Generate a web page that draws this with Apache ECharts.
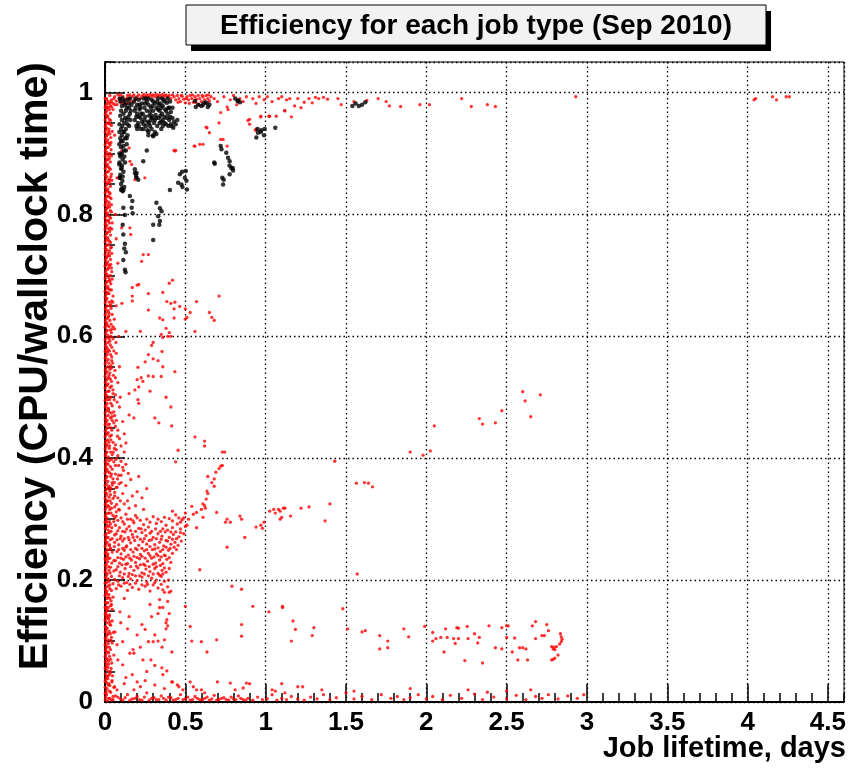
<!DOCTYPE html>
<html>
<head>
<meta charset="utf-8">
<script src="https://cdn.jsdelivr.net/npm/echarts@6/dist/echarts.min.js"></script>
<style>
  html, body { margin: 0; padding: 0; background: #fff; }
  #chart { width: 860px; height: 768px; }
</style>
</head>
<body>
<div id="chart"></div>
<script>
// tick values
var xTicks = [0, 0.5, 1, 1.5, 2, 2.5, 3, 3.5, 4, 4.5];
var yTicks = [0, 0.2, 0.4, 0.6, 0.8, 1];

// red: jobs at (almost) zero lifetime, along the left edge
var redEdge = [
  [0.001,0.014],[0.001,0.034],[0.001,0.055],[0.001,0.075],[0.001,0.094],[0.001,0.115],[0.001,0.134],[0.001,0.155],
  [0.001,0.175],[0.001,0.195],[0.001,0.214],[0.001,0.235],[0.001,0.255],[0.001,0.274],[0.001,0.295],[0.001,0.315],
  [0.001,0.334],[0.001,0.355],[0.001,0.375],[0.001,0.394],[0.001,0.415],[0.001,0.435],[0.001,0.455],[0.001,0.474],
  [0.001,0.495],[0.001,0.515],[0.001,0.534],[0.001,0.555],[0.001,0.575],[0.001,0.594],[0.001,0.615],[0.001,0.635],
  [0.001,0.655],[0.001,0.674],[0.001,0.695],[0.001,0.715],[0.001,0.734],[0.001,0.755],[0.001,0.775],[0.001,0.794],
  [0.001,0.815],[0.001,0.835],[0.001,0.854],[0.001,0.875],[0.001,0.895],[0.001,0.914],[0.001,0.935],[0.001,0.955],
  [0.001,0.975],[0.001,0.99]
];

// red: dense column of short jobs
var redColumn = [
  [0.002,0.004],[0.01,0.012],[0.022,0.006],[0.035,0.016],[0.05,0.009],
  [0.002,0.024],[0.008,0.032],[0.018,0.038],[0.03,0.027],[0.044,0.035],
  [0.002,0.046],[0.012,0.052],[0.025,0.044],[0.006,0.058],[0.038,0.055],
  [0.002,0.066],[0.015,0.07],[0.028,0.075],[0.005,0.078],[0.042,0.064],
  [0.002,0.084],[0.01,0.09],[0.02,0.096],[0.034,0.086],[0.006,0.099],
  [0.002,0.104],[0.014,0.11],[0.026,0.116],[0.04,0.106],[0.008,0.118],
  [0.002,0.124],[0.011,0.13],[0.022,0.136],[0.035,0.126],[0.005,0.139],
  [0.002,0.144],[0.016,0.15],[0.028,0.143],[0.008,0.156],[0.045,0.152],
  [0.002,0.164],[0.012,0.17],[0.024,0.176],[0.038,0.166],[0.006,0.179],
  [0.002,0.184],[0.018,0.19],[0.03,0.186],[0.009,0.196],[0.05,0.194],
  [0.002,0.204],[0.013,0.21],[0.025,0.216],[0.04,0.206],[0.006,0.219],
  [0.002,0.224],[0.017,0.23],[0.03,0.236],[0.008,0.226],[0.055,0.232],
  [0.002,0.244],[0.012,0.25],[0.026,0.256],[0.045,0.246],[0.006,0.259],
  [0.002,0.264],[0.019,0.27],[0.033,0.266],[0.009,0.276],[0.06,0.274],
  [0.002,0.284],[0.014,0.29],[0.027,0.296],[0.042,0.286],[0.007,0.299],
  [0.002,0.304],[0.018,0.31],[0.03,0.316],[0.05,0.306],[0.008,0.319],[0.07,0.312],
  [0.002,0.324],[0.012,0.33],[0.025,0.336],[0.04,0.326],[0.06,0.338],[0.006,0.339],
  [0.002,0.344],[0.016,0.35],[0.03,0.346],[0.045,0.356],[0.075,0.352],[0.009,0.358],
  [0.002,0.364],[0.013,0.37],[0.028,0.376],[0.05,0.366],[0.065,0.374],[0.006,0.379],
  [0.002,0.384],[0.019,0.39],[0.034,0.386],[0.055,0.394],[0.085,0.388],[0.01,0.398],
  [0.002,0.404],[0.012,0.41],[0.026,0.416],[0.045,0.406],[0.07,0.414],[0.007,0.419],
  [0.002,0.424],[0.017,0.43],[0.031,0.436],[0.05,0.426],[0.09,0.432],[0.008,0.439],
  [0.002,0.444],[0.014,0.45],[0.027,0.456],[0.042,0.446],[0.065,0.452],[0.006,0.459],
  [0.002,0.464],[0.02,0.47],[0.034,0.466],[0.055,0.476],[0.01,0.478],
  [0.002,0.484],[0.013,0.49],[0.028,0.496],[0.045,0.486],[0.075,0.492],[0.007,0.499],
  [0.002,0.504],[0.018,0.51],[0.032,0.516],[0.05,0.506],[0.009,0.519],
  [0.002,0.524],[0.012,0.53],[0.025,0.536],[0.04,0.526],[0.065,0.532],[0.006,0.539],
  [0.002,0.544],[0.016,0.55],[0.03,0.546],[0.048,0.556],[0.008,0.559],
  [0.002,0.564],[0.013,0.57],[0.027,0.576],[0.042,0.566],[0.07,0.572],[0.006,0.579],
  [0.002,0.584],[0.019,0.59],[0.033,0.586],[0.05,0.596],[0.01,0.598],
  [0.002,0.604],[0.012,0.61],[0.025,0.616],[0.04,0.606],[0.06,0.612],[0.006,0.619],
  [0.002,0.624],[0.017,0.63],[0.03,0.626],[0.045,0.636],[0.008,0.639],
  [0.002,0.644],[0.013,0.65],[0.026,0.656],[0.038,0.646],[0.006,0.659],
  [0.002,0.664],[0.018,0.67],[0.031,0.676],[0.05,0.666],[0.009,0.679],
  [0.002,0.684],[0.012,0.69],[0.024,0.696],[0.036,0.686],[0.006,0.699],
  [0.002,0.704],[0.016,0.71],[0.028,0.716],[0.042,0.706],[0.008,0.719],
  [0.002,0.724],[0.011,0.73],[0.022,0.736],[0.034,0.726],[0.005,0.739],
  [0.002,0.744],[0.015,0.75],[0.027,0.756],[0.04,0.746],[0.007,0.759],
  [0.002,0.764],[0.012,0.77],[0.023,0.776],[0.035,0.766],[0.006,0.779],
  [0.002,0.784],[0.016,0.79],[0.028,0.796],[0.045,0.786],[0.008,0.799],
  [0.002,0.804],[0.011,0.81],[0.022,0.816],[0.033,0.806],[0.005,0.819],
  [0.002,0.824],[0.014,0.83],[0.026,0.836],[0.038,0.826],[0.007,0.839],
  [0.002,0.844],[0.012,0.85],[0.024,0.856],[0.034,0.846],[0.006,0.859],
  [0.002,0.864],[0.015,0.87],[0.027,0.876],[0.04,0.866],[0.008,0.879],
  [0.002,0.884],[0.011,0.89],[0.022,0.896],[0.033,0.886],[0.005,0.899],
  [0.002,0.904],[0.014,0.91],[0.026,0.916],[0.038,0.906],[0.007,0.919],
  [0.002,0.924],[0.012,0.93],[0.024,0.936],[0.036,0.926],[0.006,0.939],
  [0.002,0.944],[0.015,0.95],[0.028,0.956],[0.04,0.946],[0.008,0.959],
  [0.002,0.964],[0.011,0.97],[0.022,0.976],[0.034,0.966],[0.005,0.979],[0.05,0.972]
];

// red: more of the same column, between the points above
var redColumnFill = [
  [0.006,0.015],[0.016,0.002],[0.028,0.018],[0.042,0.003],
  [0.004,0.037],[0.013,0.022],[0.024,0.03],[0.055,0.024],
  [0.008,0.042],[0.018,0.057],[0.032,0.05],[0.047,0.043],
  [0.009,0.062],[0.021,0.067],[0.035,0.07],[0.055,0.077],
  [0.005,0.087],[0.015,0.082],[0.027,0.09],[0.045,0.097],
  [0.007,0.107],[0.02,0.102],[0.033,0.112],[0.052,0.114],
  [0.006,0.122],[0.016,0.138],[0.029,0.128],[0.045,0.133],
  [0.005,0.147],[0.012,0.142],[0.022,0.155],[0.036,0.158],
  [0.007,0.162],[0.018,0.163],[0.03,0.17],[0.05,0.172],
  [0.005,0.188],[0.012,0.182],[0.024,0.198],[0.04,0.183],
  [0.008,0.207],[0.019,0.202],[0.032,0.212],[0.055,0.215],
  [0.005,0.232],[0.012,0.238],[0.023,0.222],[0.042,0.228],
  [0.007,0.247],[0.018,0.243],[0.035,0.252],[0.058,0.255],
  [0.005,0.268],[0.014,0.262],[0.026,0.278],[0.045,0.268],
  [0.006,0.287],[0.02,0.282],[0.034,0.292],[0.055,0.296],
  [0.005,0.308],[0.012,0.302],[0.024,0.31],[0.04,0.318],[0.06,0.302],[0.085,0.316],
  [0.008,0.328],[0.018,0.322],[0.032,0.33],[0.05,0.334],[0.072,0.324],[0.095,0.33],
  [0.005,0.349],[0.012,0.342],[0.023,0.354],[0.038,0.35],[0.06,0.344],[0.088,0.358],
  [0.007,0.368],[0.018,0.362],[0.036,0.37],[0.058,0.36],[0.078,0.366],[0.1,0.372],
  [0.005,0.388],[0.012,0.382],[0.026,0.396],[0.045,0.382],[0.068,0.398],[0.11,0.385],
  [0.006,0.408],[0.019,0.402],[0.035,0.41],[0.058,0.416],[0.08,0.404],[0.12,0.41],
  [0.005,0.428],[0.012,0.422],[0.024,0.426],[0.04,0.438],[0.065,0.422],[0.078,0.436],
  [0.008,0.448],[0.02,0.442],[0.034,0.45],[0.055,0.458],[0.08,0.446],
  [0.005,0.468],[0.013,0.462],[0.026,0.476],[0.044,0.468],[0.07,0.462],
  [0.006,0.487],[0.02,0.482],[0.036,0.49],[0.058,0.496],[0.09,0.484],
  [0.005,0.508],[0.012,0.502],[0.025,0.51],[0.04,0.518],[0.065,0.504],
  [0.008,0.528],[0.019,0.522],[0.033,0.53],[0.052,0.536],[0.08,0.524],
  [0.005,0.548],[0.012,0.542],[0.024,0.556],[0.04,0.548],[0.062,0.544],
  [0.006,0.568],[0.02,0.562],[0.035,0.57],[0.055,0.576],
  [0.005,0.588],[0.012,0.582],[0.026,0.596],[0.042,0.582],[0.068,0.59],
  [0.008,0.608],[0.018,0.602],[0.032,0.61],[0.05,0.616],
  [0.005,0.628],[0.012,0.622],[0.024,0.634],[0.038,0.62],[0.058,0.628],
  [0.006,0.648],[0.02,0.642],[0.032,0.65],[0.048,0.656],
  [0.005,0.668],[0.012,0.662],[0.025,0.67],[0.04,0.676],
  [0.008,0.688],[0.018,0.682],[0.03,0.69],[0.045,0.694],
  [0.005,0.708],[0.012,0.702],[0.022,0.712],[0.035,0.718],
  [0.006,0.728],[0.017,0.722],[0.028,0.732],[0.042,0.736],
  [0.005,0.748],[0.011,0.742],[0.021,0.75],[0.034,0.754],
  [0.008,0.768],[0.018,0.762],[0.029,0.772],[0.042,0.776],
  [0.005,0.788],[0.011,0.782],[0.022,0.79],[0.036,0.794],
  [0.006,0.808],[0.016,0.802],[0.028,0.812],[0.04,0.816],
  [0.005,0.828],[0.011,0.822],[0.02,0.83],[0.032,0.834],
  [0.008,0.848],[0.018,0.842],[0.029,0.852],[0.042,0.856],
  [0.005,0.868],[0.011,0.862],[0.021,0.87],[0.034,0.874],
  [0.006,0.888],[0.016,0.882],[0.028,0.892],[0.04,0.896],
  [0.005,0.908],[0.011,0.902],[0.02,0.91],[0.032,0.914],
  [0.008,0.928],[0.018,0.922],[0.03,0.932],[0.045,0.936],
  [0.005,0.948],[0.011,0.942],[0.021,0.95],[0.034,0.954],
  [0.006,0.968],[0.016,0.962],[0.028,0.972],[0.042,0.976],[0.06,0.98]
];

// red: third layer of the column where it is nearly solid
var redColumnCore = [
  [0.004,0.008],[0.019,0.028],[0.031,0.047],[0.009,0.071],[0.023,0.081],[0.037,0.101],[0.013,0.121],[0.026,0.14],
  [0.04,0.16],[0.01,0.178],[0.021,0.2],[0.034,0.221],[0.015,0.24],[0.028,0.258],[0.038,0.28],[0.011,0.295],
  [0.023,0.321],[0.034,0.34],[0.045,0.36],[0.02,0.378],[0.04,0.398],[0.028,0.42],[0.015,0.44],[0.045,0.462],
  [0.022,0.48],[0.035,0.5],[0.015,0.52],[0.03,0.54],[0.042,0.56],[0.02,0.578],[0.037,0.6],[0.015,0.618],
  [0.026,0.638],[0.042,0.658],[0.021,0.678],[0.033,0.7],[0.014,0.718],[0.028,0.74],[0.019,0.758],[0.032,0.778],
  [0.013,0.798],[0.025,0.82],[0.016,0.838],[0.028,0.858],[0.019,0.878],[0.03,0.9],[0.014,0.918],[0.025,0.94],
  [0.018,0.96],[0.03,0.982],[0.009,0.988],
  [0.007,0.018],[0.015,0.042],[0.022,0.062],[0.007,0.092],[0.017,0.112],[0.03,0.132],[0.007,0.152],[0.019,0.172],
  [0.03,0.192],[0.007,0.212],[0.02,0.235],[0.031,0.25],[0.01,0.27],[0.024,0.288],[0.037,0.31],[0.015,0.33],
  [0.028,0.352],[0.04,0.374],[0.012,0.392],[0.052,0.41],[0.036,0.43],[0.02,0.455],[0.06,0.47],[0.04,0.474],
  [0.016,0.496],[0.05,0.512],[0.022,0.532],[0.036,0.552],[0.016,0.574],[0.03,0.592],[0.044,0.612],[0.02,0.632],
  [0.035,0.652],[0.014,0.672],[0.028,0.692],[0.04,0.712],[0.02,0.732],[0.035,0.745],[0.014,0.77],[0.027,0.786],
  [0.04,0.804],[0.017,0.812],[0.03,0.828],[0.014,0.852],[0.036,0.862],[0.019,0.89],[0.037,0.918],[0.016,0.932],
  [0.03,0.948],[0.014,0.975],[0.038,0.985]
];

// red: band of efficient jobs just under 1
var redTopBand = [
  [0.01,0.99],[0.02,0.985],[0.03,0.995],[0.04,0.988],[0.05,0.982],[0.06,0.993],[0.07,0.986],[0.08,0.996],
  [0.09,0.99],[0.1,0.984],[0.11,0.994],[0.12,0.988],[0.13,0.982],[0.14,0.995],[0.15,0.99],[0.16,0.985],
  [0.17,0.993],[0.18,0.996],[0.19,0.988],[0.2,0.993],[0.21,0.996],[0.22,0.99],[0.23,0.994],[0.24,0.997],
  [0.25,0.993],[0.26,0.996],[0.27,0.993],[0.28,0.997],[0.29,0.994],[0.3,0.996],[0.31,0.993],[0.32,0.997],
  [0.33,0.994],[0.34,0.996],[0.35,0.993],[0.36,0.997],[0.37,0.994],[0.38,0.996],[0.39,0.993],[0.4,0.995],
  [0.41,0.99],[0.42,0.996],[0.43,0.993],[0.44,0.988],[0.45,0.995],[0.46,0.99],[0.47,0.985],[0.48,0.994],
  [0.49,0.989],[0.5,0.983],[0.51,0.993],[0.52,0.988],[0.53,0.995],[0.54,0.99],[0.55,0.984],[0.56,0.993],
  [0.57,0.989],[0.58,0.995],[0.59,0.99],[0.6,0.985],[0.61,0.993],[0.62,0.988],[0.63,0.995],[0.64,0.99],
  [0.65,0.986],[0.66,0.993],[0.015,0.982],[0.035,0.978],[0.055,0.99],[0.075,0.98],[0.095,0.996],[0.115,0.982],
  [0.135,0.99],[0.155,0.996],[0.175,0.984],[0.455,0.984],[0.475,0.995],[0.505,0.99],[0.525,0.982],[0.545,0.996],
  [0.565,0.984],[0.585,0.98],[0.605,0.995],[0.625,0.982],[0.645,0.996]
];

// red: sparse efficient jobs at longer lifetimes
var redTopSparse = [
  [0.68,0.99],[0.7,0.985],[0.72,0.967],[0.74,0.993],[0.76,0.976],[0.78,0.988],[0.8,0.995],[0.82,0.98],
  [0.84,0.99],[0.86,0.985],[0.88,0.993],[0.9,0.956],[0.92,0.99],[0.94,0.982],[0.96,0.993],[0.97,0.961],
  [0.99,0.988],[1.01,0.993],[1.02,0.961],[1.04,0.985],[1.066,0.961],[1.08,0.99],[1.1,0.993],[1.12,0.97],
  [1.13,0.988],[1.15,0.99],[1.16,0.96],[1.18,0.978],[1.2,0.99],[1.22,0.975],[1.24,0.984],[1.27,0.99],
  [1.29,0.983],[1.31,0.992],[1.33,0.99],[1.36,0.992],[1.385,0.989],[1.45,0.99],[1.47,0.98],[1.55,0.985],
  [1.63,0.987],[1.7,0.99],[1.75,0.985],[1.77,0.978],[1.84,0.977],[1.96,0.98],[2.02,0.98],[2.22,0.99],
  [2.28,0.977],[2.38,0.98],[2.43,0.977],[2.93,0.993],[4.04,0.988],[4.05,0.99],[4.155,0.993],[4.18,0.988],
  [4.24,0.993],[4.26,0.993]
];

// red: scattered jobs at medium efficiency
var redMid = [
  [0.17,0.68],[0.2,0.684],[0.21,0.685],[0.4,0.687],[0.42,0.692],[0.17,0.666],[0.17,0.658],[0.27,0.67],
  [0.36,0.672],[0.105,0.654],[0.27,0.643],[0.385,0.657],[0.41,0.654],[0.435,0.656],[0.43,0.645],[0.465,0.649],
  [0.5,0.645],[0.57,0.657],[0.53,0.639],[0.65,0.639],[0.665,0.631],[0.68,0.626],[0.71,0.666],[0.51,0.631],
  [0.5,0.628],[0.34,0.63],[0.36,0.627],[0.43,0.63],[0.22,0.608],[0.13,0.608],[0.3,0.59],[0.35,0.603],
  [0.36,0.598],[0.38,0.613],[0.4,0.606],[0.39,0.6],[0.41,0.6],[0.56,0.608],[0.29,0.585],[0.355,0.575],
  [0.27,0.57],[0.25,0.558],[0.3,0.563],[0.33,0.56],[0.36,0.55],[0.205,0.549],[0.27,0.535],[0.3,0.534],
  [0.225,0.532],[0.2,0.529],[0.35,0.534],[0.435,0.542],[0.236,0.526],[0.21,0.517],[0.28,0.51],[0.186,0.512],
  [0.15,0.506],[0.205,0.496],[0.38,0.5],[0.21,0.49],[0.41,0.484],[0.15,0.471],[0.18,0.466],[0.31,0.466],
  [0.335,0.458],[0.415,0.453],[0.56,0.435],[0.62,0.428],[0.62,0.42],[0.73,0.41],[0.745,0.41],[0.455,0.413],
  [0.44,0.394],[0.72,0.387],
  [0.44,0.905],[0.56,0.912],[0.61,0.915],[0.635,0.942],[0.65,0.934],[0.735,0.923],[0.71,0.95],[0.766,0.972],
  [0.89,0.954],[0.9,0.948],[0.936,0.938],[0.97,0.96],[1.025,0.961],[1.118,0.97],[0.15,0.909],[0.104,0.904],
  [0.155,0.887],[0.166,0.882],[0.248,0.86],[0.186,0.857],[0.43,0.905],[0.238,0.734],[0.27,0.734],[0.228,0.723],
  [0.155,0.778],[0.16,0.767],[0.104,0.778],[0.63,0.943],[0.72,0.923],[0.76,0.912],[0.59,0.915],[0.555,0.912],
  [0.435,0.904],[0.94,0.94],[0.07,0.76],[0.08,0.72],[0.065,0.8],[0.075,0.86],[0.06,0.93],[0.07,0.65],
  [0.085,0.6],[0.09,0.55],[0.095,0.5],[0.11,0.46],[0.12,0.44],[0.1,0.42],[0.13,0.425]
];

// red: big cluster around 0.2-0.3 efficiency
var redCluster = [
  [0.07,0.305],[0.1,0.302],[0.13,0.308],[0.16,0.3],[0.19,0.306],[0.22,0.298],[0.3,0.304],[0.35,0.296],
  [0.4,0.301],[0.44,0.307],[0.48,0.299],
  [0.065,0.29],[0.09,0.286],[0.12,0.292],[0.15,0.288],[0.18,0.294],[0.21,0.285],[0.24,0.291],[0.27,0.287],
  [0.32,0.293],[0.36,0.284],[0.38,0.29],[0.42,0.286],[0.45,0.292],[0.47,0.284],[0.5,0.288],
  [0.07,0.276],[0.1,0.272],[0.125,0.279],[0.145,0.27],[0.17,0.275],[0.2,0.271],[0.23,0.278],[0.255,0.273],
  [0.28,0.277],[0.3,0.27],[0.33,0.276],[0.355,0.272],[0.375,0.279],[0.4,0.27],[0.425,0.275],[0.44,0.279],
  [0.46,0.271],[0.49,0.276],
  [0.06,0.262],[0.085,0.258],[0.11,0.264],[0.135,0.256],[0.16,0.261],[0.185,0.265],[0.21,0.257],[0.235,0.263],
  [0.26,0.259],[0.29,0.266],[0.31,0.258],[0.34,0.262],[0.365,0.256],[0.39,0.264],[0.41,0.259],[0.435,0.262],
  [0.455,0.257],
  [0.075,0.247],[0.1,0.243],[0.12,0.249],[0.145,0.241],[0.175,0.246],[0.2,0.25],[0.22,0.242],[0.245,0.248],
  [0.27,0.244],[0.295,0.25],[0.32,0.243],[0.345,0.247],[0.37,0.241],[0.395,0.249],[0.42,0.244],[0.445,0.25],
  [0.065,0.232],[0.09,0.228],[0.115,0.234],[0.14,0.227],[0.165,0.233],[0.19,0.229],[0.215,0.235],[0.24,0.226],
  [0.265,0.231],[0.29,0.236],[0.315,0.228],[0.34,0.233],[0.36,0.227],[0.385,0.234],[0.41,0.229],
  [0.07,0.217],[0.095,0.213],[0.125,0.219],[0.15,0.211],[0.18,0.216],[0.205,0.22],[0.23,0.212],[0.255,0.218],
  [0.28,0.214],[0.31,0.219],[0.33,0.211],[0.355,0.216],[0.38,0.213],[0.4,0.219],
  [0.06,0.201],[0.08,0.198],[0.11,0.204],[0.135,0.196],[0.16,0.202],[0.2,0.199],[0.23,0.205],[0.26,0.197],
  [0.29,0.203],[0.32,0.2],[0.35,0.206],[0.37,0.198],[0.395,0.2],
  [0.07,0.186],[0.1,0.19],[0.14,0.183],[0.17,0.188],[0.21,0.185],[0.25,0.19],[0.28,0.182],[0.33,0.187],
  [0.36,0.184],[0.39,0.189],[0.41,0.182],
  [0.06,0.32],[0.09,0.315],[0.12,0.325],[0.15,0.318],[0.19,0.322],[0.24,0.316],[0.08,0.335],[0.11,0.342],
  [0.14,0.33],[0.17,0.338],[0.2,0.345],[0.07,0.352],[0.1,0.36],[0.13,0.355],[0.16,0.365],[0.085,0.372],
  [0.115,0.38],[0.145,0.375],[0.065,0.388],[0.1,0.395],[0.13,0.39],[0.23,0.335],[0.26,0.35],[0.21,0.37],
  [0.47,0.295],[0.49,0.302],[0.5,0.31],[0.52,0.3]
];

// red: more of the cluster, between the rows above
var redClusterFill = [
  [0.08,0.298],[0.11,0.296],[0.14,0.3],[0.175,0.297],[0.2,0.302],[0.26,0.3],[0.28,0.295],[0.33,0.3],
  [0.37,0.303],[0.42,0.297],[0.46,0.302],
  [0.08,0.281],[0.11,0.28],[0.135,0.284],[0.16,0.281],[0.19,0.28],[0.225,0.284],[0.25,0.282],[0.29,0.28],
  [0.315,0.284],[0.345,0.28],[0.39,0.282],[0.41,0.279],[0.47,0.278],
  [0.075,0.266],[0.095,0.268],[0.12,0.268],[0.15,0.266],[0.175,0.27],[0.22,0.267],[0.245,0.268],[0.275,0.265],
  [0.32,0.268],[0.35,0.267],[0.38,0.265],[0.42,0.267],[0.445,0.268],[0.475,0.264],
  [0.085,0.25],[0.11,0.252],[0.13,0.254],[0.16,0.25],[0.19,0.252],[0.23,0.252],[0.26,0.25],[0.28,0.255],
  [0.31,0.251],[0.33,0.253],[0.36,0.25],[0.38,0.254],[0.405,0.252],[0.43,0.254],
  [0.08,0.237],[0.1,0.236],[0.13,0.238],[0.155,0.236],[0.18,0.239],[0.2,0.237],[0.23,0.239],[0.25,0.236],
  [0.28,0.24],[0.305,0.238],[0.33,0.24],[0.35,0.238],[0.375,0.24],[0.4,0.237],
  [0.08,0.222],[0.105,0.225],[0.13,0.226],[0.16,0.222],[0.195,0.223],[0.22,0.225],[0.25,0.224],[0.275,0.222],
  [0.3,0.226],[0.32,0.222],[0.345,0.224],[0.37,0.22],
  [0.09,0.207],[0.12,0.21],[0.145,0.206],[0.17,0.209],[0.19,0.207],[0.215,0.207],[0.245,0.21],[0.27,0.207],
  [0.3,0.21],[0.34,0.208],[0.36,0.21],
  [0.085,0.192],[0.12,0.195],[0.155,0.193],[0.19,0.195],[0.23,0.192],[0.265,0.193],[0.3,0.192],[0.31,0.196],
  [0.35,0.193]
];

// red: rising streak and the jobs to the right of the cluster
var redStreak = [
  [0.73,0.388],[0.71,0.383],[0.69,0.377],[0.68,0.366],[0.665,0.36],[0.64,0.37],[0.68,0.354],[0.635,0.346],
  [0.64,0.342],[0.63,0.333],[0.61,0.325],[0.62,0.322],[0.625,0.318],[0.6,0.316],[0.61,0.303],[0.57,0.311],
  [0.55,0.308],[0.54,0.321],[0.51,0.29],[0.57,0.286],[0.695,0.311],[0.76,0.3],[0.78,0.295],[0.75,0.295],
  [0.84,0.305],[0.85,0.3],[0.87,0.27],[0.76,0.254],[0.94,0.287],[0.97,0.29],[0.99,0.295],[0.98,0.285],
  [1.025,0.313],[1.05,0.316],[1.06,0.31],[1.08,0.316],[1.1,0.303],[1.12,0.318],[1.09,0.313],[1.11,0.318],
  [1.09,0.3],[1.155,0.305],[1.22,0.318],[1.27,0.32],[1.37,0.297],[1.4,0.325],[1.43,0.395],[1.565,0.359],
  [1.615,0.36],[1.64,0.359],[1.665,0.353],[1.57,0.21],[1.9,0.41],[1.98,0.405],[2.025,0.412],[2.05,0.453],
  [2.33,0.465],[2.35,0.456],[2.43,0.458],[2.47,0.478],[2.6,0.509],[2.615,0.494],[2.65,0.468],[2.71,0.504],
  [0.42,0.313]
];

// red: low efficiency, short lifetime
var redLowLeft = [
  [0.28,0.16],[0.34,0.168],[0.34,0.155],[0.33,0.145],[0.385,0.135],[0.38,0.13],[0.39,0.125],[0.38,0.12],
  [0.37,0.102],[0.355,0.09],[0.33,0.1],[0.3,0.099],[0.27,0.099],[0.25,0.119],[0.23,0.127],[0.2,0.11],
  [0.175,0.086],[0.18,0.08],[0.155,0.08],[0.11,0.099],[0.075,0.094],[0.093,0.148],[0.15,0.14],[0.098,0.13],
  [0.062,0.115],[0.08,0.069],[0.11,0.061],[0.236,0.069],[0.286,0.069],[0.354,0.056],[0.385,0.051],[0.416,0.082],
  [0.043,0.033],[0.075,0.02],[0.2,0.033],[0.22,0.025],[0.36,0.045],[0.416,0.033],[0.45,0.028],[0.46,0.025],
  [0.485,0.02],[0.53,0.033],[0.55,0.025],[0.57,0.02],[0.62,0.015],[0.7,0.033],[0.78,0.031],[0.81,0.02],
  [0.86,0.023],[0.88,0.031],[1.04,0.02],[1.06,0.018],[1.12,0.015],[0.53,0.124],[0.54,0.1],[0.5,0.157],
  [0.6,0.099],[0.635,0.082],[0.695,0.102],[0.79,0.19],[0.85,0.185],[0.85,0.127],[0.85,0.108],[0.92,0.157],
  [1.02,0.148],[1.105,0.157],[0.59,0.217],[0.37,0.18],[0.39,0.165],[0.4,0.18],[0.36,0.155],[0.4,0.145],
  [0.29,0.14],[0.31,0.11],[0.22,0.09],[0.14,0.12],[0.12,0.17],[0.26,0.05],[0.31,0.06],[0.17,0.045],
  [0.13,0.04]
];

// red: low efficiency band at long lifetimes
var redLowBand = [
  [1.105,0.155],[1.17,0.133],[1.185,0.119],[1.16,0.1],[1.29,0.109],[1.3,0.122],[1.48,0.153],[1.51,0.12],
  [1.6,0.115],[1.62,0.117],[1.71,0.087],[1.71,0.109],[1.76,0.089],[1.76,0.1],[1.86,0.12],[1.89,0.107],
  [1.99,0.124],[2.04,0.114],[2.04,0.1],[2.06,0.104],[2.09,0.106],[2.11,0.082],[2.12,0.12],[2.13,0.106],
  [2.17,0.104],[2.18,0.096],[2.19,0.122],[2.2,0.121],[2.2,0.104],[2.24,0.068],[2.255,0.124],[2.26,0.104],
  [2.3,0.112],[2.32,0.097],[2.33,0.106],[2.35,0.064],[2.39,0.125],[2.43,0.089],[2.47,0.122],[2.47,0.087],
  [2.5,0.125],[2.51,0.125],[2.5,0.106],[2.535,0.082],[2.55,0.105],[2.57,0.069],[2.58,0.089],[2.6,0.089],
  [2.62,0.087],[2.63,0.069],[2.66,0.125],[2.68,0.132],[2.68,0.104],[2.72,0.109],[2.735,0.109],[2.75,0.127],
  [2.76,0.117],[2.84,0.107],[2.845,0.103],[2.84,0.099],[2.83,0.095],[2.81,0.091],[2.795,0.09],[2.78,0.091],
  [2.79,0.087],[2.8,0.086],[2.82,0.077],[2.8,0.072],[2.78,0.069],[2.79,0.07],[2.835,0.112]
];

// red: near-zero efficiency
var redBottom = [
  [0.05,0.004],[0.08,0.008],[0.11,0.003],[0.14,0.012],[0.17,0.005],[0.2,0.009],[0.23,0.003],[0.26,0.015],
  [0.29,0.006],[0.32,0.004],[0.35,0.01],[0.38,0.003],[0.41,0.007],[0.44,0.004],[0.47,0.012],[0.5,0.005],
  [0.53,0.003],[0.56,0.009],[0.59,0.004],[0.62,0.006],[0.65,0.003],[0.68,0.011],[0.71,0.004],[0.74,0.007],
  [0.77,0.003],[0.8,0.005],[0.83,0.01],[0.86,0.004],[0.89,0.006],[0.92,0.003],[0.95,0.008],[0.98,0.004],
  [1.01,0.005],[1.04,0.012],[1.07,0.003],[1.1,0.006],[1.13,0.004],[1.16,0.009],[1.2,0.005],[1.24,0.003],
  [1.28,0.008],[1.32,0.005],[1.36,0.012],[1.4,0.004],[1.44,0.007],[1.5,0.015],[1.55,0.005],[1.6,0.009],
  [1.66,0.004],[1.72,0.012],[1.78,0.006],[1.82,0.009],[1.86,0.004],[1.9,0.007],[1.95,0.012],[2.0,0.005],
  [2.04,0.009],[2.1,0.004],[2.15,0.011],[2.22,0.006],[2.3,0.013],[2.35,0.004],[2.42,0.008],[2.5,0.005],
  [2.56,0.011],[2.62,0.004],[2.68,0.009],[2.72,0.006],[2.76,0.012],[2.82,0.005],[2.88,0.01],[2.94,0.006],
  [2.98,0.012],
  [0.03,0.006],[0.065,0.01],[0.095,0.005],[0.125,0.007],[0.155,0.003],[0.185,0.006],[0.215,0.004],[0.245,0.008],
  [0.275,0.003],[0.305,0.007],[0.335,0.004],[0.365,0.006],[0.395,0.008],[0.425,0.003],[0.455,0.006],[0.485,0.004],
  [0.515,0.008],[0.545,0.004],[0.575,0.006],[0.605,0.003],[0.635,0.008],[0.665,0.005],[0.695,0.003],[0.725,0.006],
  [0.755,0.004],[0.785,0.008],[0.815,0.004],[0.845,0.006],[0.875,0.003],
  [0.06,0.025],[0.12,0.03],[0.18,0.02],[0.25,0.035],[0.31,0.028],[0.37,0.022],[0.42,0.033],[0.6,0.02],
  [0.9,0.03],[1.1,0.03],[1.2,0.025],[1.23,0.025],[1.35,0.02],[1.55,0.018],[1.9,0.022],[2.26,0.02],
  [2.38,0.016],[2.5,0.018],[2.65,0.02]
];

// black: the efficient job type
var blackCore = [
  [0.18,0.985],[0.19,0.975],[0.2,0.965],[0.185,0.955],[0.195,0.945],[0.21,0.988],[0.215,0.972],[0.222,0.958],
  [0.205,0.95],[0.23,0.982],[0.235,0.965],[0.24,0.948],[0.225,0.94],[0.245,0.975],[0.25,0.96],[0.255,0.99],
  [0.26,0.97],[0.265,0.952],[0.27,0.98],[0.275,0.962],[0.28,0.945],[0.285,0.975],[0.29,0.988],[0.295,0.958],
  [0.3,0.97],[0.305,0.95],[0.31,0.982],[0.315,0.963],[0.32,0.975],[0.325,0.945],[0.33,0.99],[0.335,0.958],
  [0.34,0.97],[0.345,0.982],[0.35,0.952],[0.355,0.965],[0.36,0.978],[0.365,0.988],[0.37,0.96],[0.375,0.972],
  [0.38,0.948],[0.385,0.983],[0.39,0.965],[0.395,0.975],[0.4,0.955],[0.405,0.985],[0.41,0.968],[0.415,0.945],
  [0.42,0.958],[0.425,0.942],[0.43,0.952],[0.44,0.948],[0.45,0.955],[0.19,0.99],[0.2,0.98],[0.21,0.96],
  [0.23,0.952],[0.25,0.982],[0.255,0.945],[0.27,0.99],[0.28,0.968],[0.3,0.985],[0.31,0.955],[0.33,0.972],
  [0.345,0.962],[0.36,0.945],[0.37,0.985],[0.38,0.97],[0.39,0.99],[0.24,0.99],[0.265,0.938],[0.29,0.94],
  [0.31,0.935],[0.3,0.93],[0.32,0.932],[0.27,0.935],[0.35,0.94],[0.36,0.955],[0.22,0.975],[0.2,0.94],
  [0.29,0.962],[0.34,0.95],[0.395,0.945],[0.405,0.96],[0.42,0.975],
  [0.185,0.97],[0.195,0.96],[0.215,0.98],[0.225,0.965],[0.245,0.955],[0.26,0.985],[0.285,0.955],[0.295,0.978],
  [0.32,0.958],[0.335,0.98],[0.35,0.975],[0.37,0.95],[0.385,0.958],[0.4,0.975],[0.41,0.948],[0.275,0.95],
  [0.24,0.94],[0.21,0.945],[0.325,0.985],[0.355,0.99],
  [0.095,0.985],[0.11,0.99],[0.125,0.98],[0.14,0.988],[0.15,0.975],[0.1,0.97],[0.115,0.965],[0.13,0.97],
  [0.145,0.96],[0.105,0.955],[0.12,0.95],[0.135,0.955],[0.15,0.945],[0.1,0.94],[0.115,0.935],[0.13,0.94],
  [0.14,0.93],[0.095,0.925],[0.11,0.92],[0.125,0.925],[0.1,0.91],[0.118,0.905],[0.135,0.915],[0.095,0.895],
  [0.11,0.89],[0.125,0.885],[0.1,0.875],[0.115,0.87],[0.092,0.86],[0.108,0.855],[0.12,0.845],[0.1,0.84],
  [0.155,0.99],[0.16,0.97],[0.165,0.98],[0.158,0.955],
  [0.092,0.99],[0.105,0.978],[0.12,0.985],[0.135,0.975],[0.148,0.982],[0.095,0.962],[0.108,0.945],[0.125,0.958],
  [0.14,0.948],[0.155,0.965],[0.09,0.948],[0.105,0.93],[0.12,0.935],[0.135,0.925],[0.09,0.935],[0.1,0.92],
  [0.115,0.912],[0.13,0.905],[0.09,0.9],[0.105,0.9],[0.12,0.895],[0.09,0.885],[0.105,0.88],[0.095,0.865],
  [0.11,0.862],[0.1,0.85],[0.115,0.84]
];

var blackScatter = [
  [0.56,0.986],[0.58,0.98],[0.6,0.978],[0.62,0.983],[0.64,0.976],[0.65,0.98],[0.81,0.99],[0.825,0.986],
  [0.84,0.984],[0.95,0.94],[0.97,0.935],[0.99,0.93],[0.942,0.926],[0.952,0.934],[0.973,0.938],[0.994,0.94],
  [1.06,0.942],[0.68,0.885],[0.72,0.912],[0.725,0.907],[0.755,0.901],[0.766,0.893],[0.776,0.887],[0.786,0.876],
  [0.795,0.876],[0.775,0.88],[0.739,0.857],[0.735,0.849],[0.683,0.883],[0.73,0.86],[0.776,0.866],[0.797,0.872],
  [0.466,0.866],[0.48,0.87],[0.455,0.852],[0.476,0.849],[0.503,0.871],[0.507,0.855],[0.51,0.841],[0.404,0.84],
  [0.497,0.86],[0.482,0.845],[0.186,0.874],[0.197,0.868],[0.193,0.863],[0.207,0.857],[0.238,0.887],[0.186,0.868],
  [0.197,0.86],[0.32,0.819],[0.342,0.81],[0.352,0.805],[0.331,0.797],[0.342,0.789],[0.338,0.783],[0.3,0.783],
  [0.3,0.758],[0.114,0.811],[0.124,0.799],[0.11,0.783],[0.114,0.767],[0.124,0.752],[0.12,0.744],[0.13,0.738],
  [0.114,0.725],[0.124,0.709],[0.128,0.705],[0.155,0.83],[0.17,0.822],[0.166,0.811],[0.172,0.802],[0.089,0.915],
  [0.097,0.898],[0.089,0.882],[0.104,0.876],[0.093,0.86],[0.104,0.843],[0.11,0.838],[1.54,0.978],[1.56,0.982],
  [1.58,0.978],[1.6,0.98],[1.62,0.984],[0.828,0.987],[0.632,0.983],[0.61,0.98],[0.565,0.976],[0.26,0.905],
  [0.27,0.93],[0.3,0.928]
];

var chart = echarts.init(document.getElementById('chart'));

var labelFont = {
  color: '#000',
  fontSize: 26,
  fontWeight: 'bold',
  fontFamily: 'Liberation Sans'
};

var option = {
  animation: false,
  backgroundColor: '#fff',
  grid: {
    left: 105,
    right: 16,
    top: 62,
    bottom: 66,
    show: true,
    borderColor: '#000',
    borderWidth: 1
  },
  xAxis: [
    {
      type: 'value',
      min: 0,
      max: 4.6,
      interval: 0.5,
      axisLine: { lineStyle: { color: '#000', width: 2 } },
      axisTick: { inside: true, length: 18, lineStyle: { color: '#000', width: 1.5 } },
      axisLabel: Object.assign({ margin: 8, showMaxLabel: false }, labelFont),
      splitLine: { show: true, lineStyle: { color: '#000', width: 1.3, type: [1.5, 3] } }
    },
    {
      // minor ticks every 0.1
      type: 'value',
      position: 'bottom',
      min: 0,
      max: 4.6,
      interval: 0.1,
      axisLine: { show: false },
      axisTick: { inside: true, length: 9, lineStyle: { color: '#000', width: 1.5 } },
      axisLabel: { show: false },
      splitLine: { show: false }
    }
  ],
  yAxis: [
    {
      type: 'value',
      min: 0,
      max: 1.05,
      interval: 0.2,
      axisLine: { show: true, lineStyle: { color: '#000', width: 2 } },
      axisTick: { show: true, inside: true, length: 20, lineStyle: { color: '#000', width: 1.5 } },
      axisLabel: Object.assign({ margin: 12, showMaxLabel: false }, labelFont),
      splitLine: { show: true, lineStyle: { color: '#000', width: 1.3, type: [1.5, 3] } }
    },
    {
      // minor ticks every 0.05
      type: 'value',
      position: 'left',
      min: 0,
      max: 1.05,
      interval: 0.05,
      axisLine: { show: false },
      axisTick: { show: true, inside: true, length: 10, lineStyle: { color: '#000', width: 1.5 } },
      axisLabel: { show: false },
      splitLine: { show: false }
    }
  ],
  graphic: [
    {
      type: 'rect',
      shape: { x: 191, y: 11, width: 580, height: 40 },
      style: { fill: '#000' },
      z: 100
    },
    {
      type: 'rect',
      shape: { x: 186, y: 5, width: 580, height: 40 },
      style: { fill: '#f2f2f2', stroke: '#000', lineWidth: 1 },
      z: 101
    },
    {
      type: 'text',
      x: 476,
      y: 26,
      z: 102,
      style: {
        text: 'Efficiency for each job type (Sep 2010)',
        align: 'center',
        verticalAlign: 'middle',
        fill: '#000',
        font: 'bold 28px "Liberation Sans"'
      }
    },
    {
      type: 'text',
      x: 846,
      y: 749,
      style: {
        text: 'Job lifetime, days',
        align: 'right',
        verticalAlign: 'middle',
        fill: '#000',
        font: 'bold 29px "Liberation Sans"'
      }
    },
    {
      type: 'text',
      x: 36,
      y: 62,
      rotation: Math.PI / 2,
      style: {
        text: 'Efficiency (CPU/wallclock time)',
        align: 'right',
        verticalAlign: 'middle',
        fill: '#000',
        font: 'bold 41px "Liberation Sans"'
      }
    }
  ],
  series: [
    {
      type: 'scatter',
      name: 'other',
      symbol: 'circle',
      symbolSize: 3.3,
      itemStyle: { color: '#ff0000' },
      data: [].concat(redEdge, redColumn, redColumnFill, redColumnCore, redTopBand, redTopSparse, redMid,
        redCluster, redClusterFill, redStreak, redLowLeft, redLowBand, redBottom)
    },
    {
      type: 'scatter',
      name: 'black',
      symbol: 'circle',
      symbolSize: 4.5,
      itemStyle: { color: '#000' },
      data: [].concat(blackCore, blackScatter)
    }
  ]
};

chart.setOption(option);
</script>
</body>
</html>
